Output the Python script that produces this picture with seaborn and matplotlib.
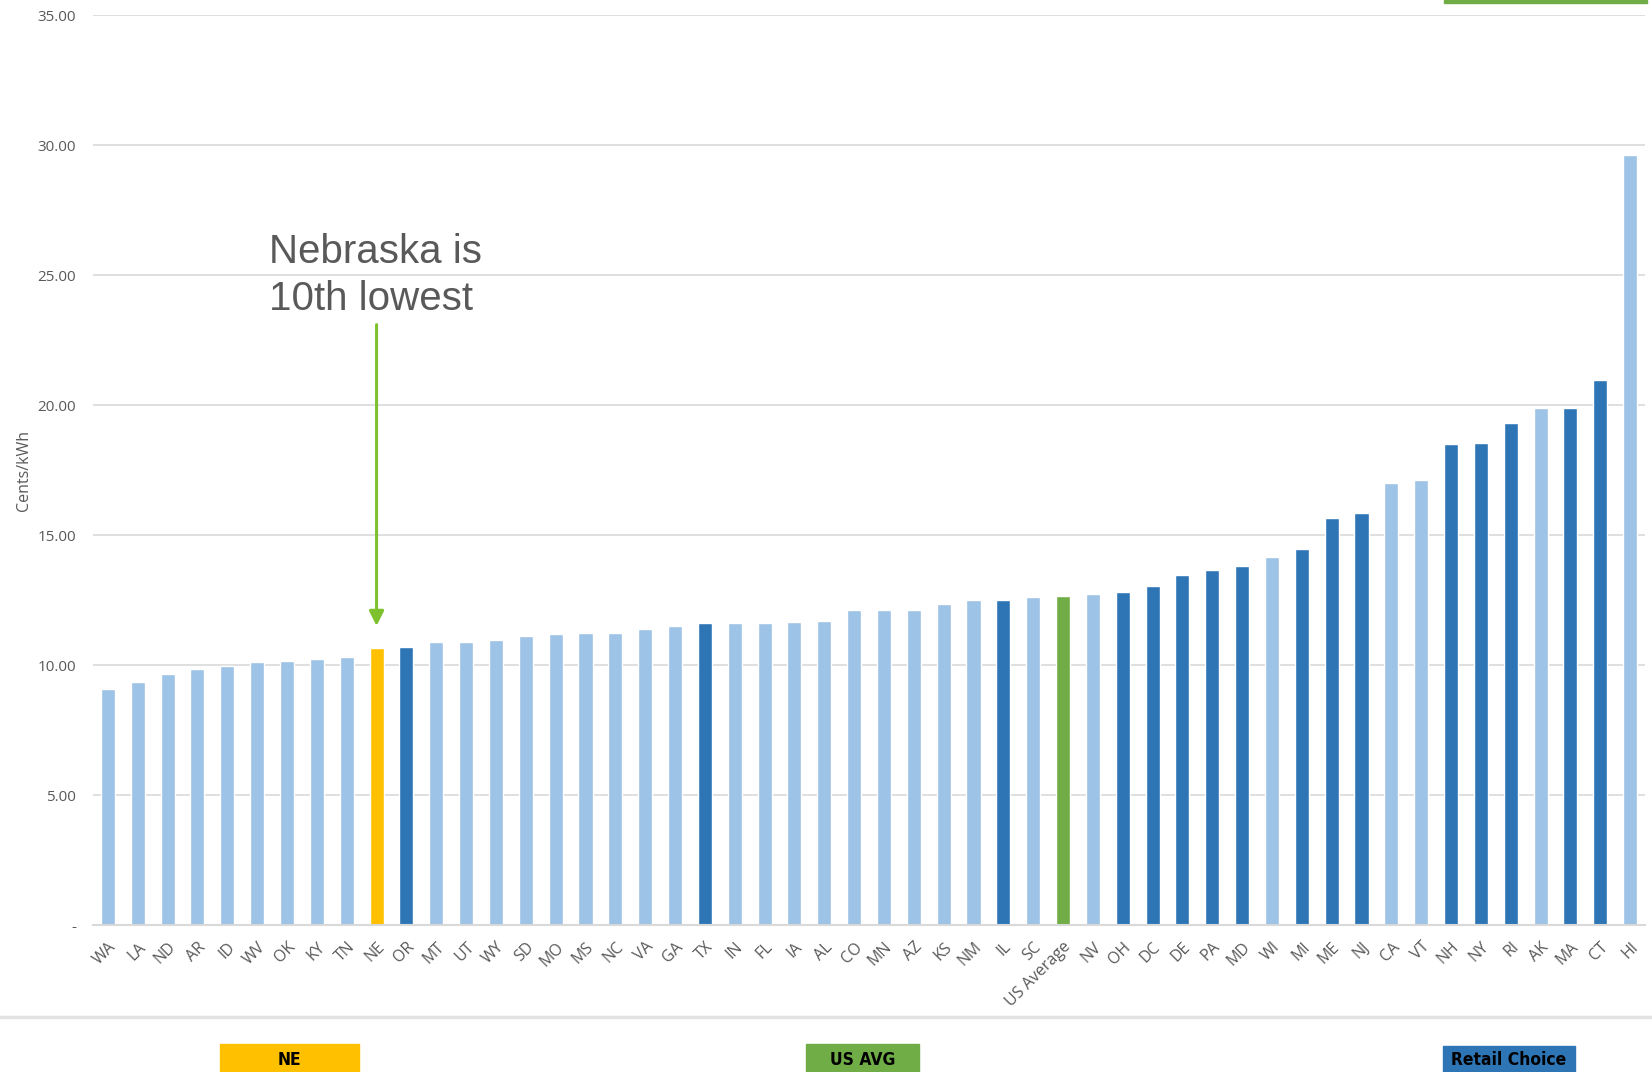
import matplotlib
matplotlib.use('Agg')
import matplotlib.pyplot as plt
import seaborn as sns
import pandas as pd
from matplotlib.patches import Rectangle

sns.set_theme(style="white")
plt.rcParams['font.family'] = ['Open Sans', 'DejaVu Sans']

# Average residential electricity price by state, cents/kWh
states = ['WA', 'LA', 'ND', 'AR', 'ID', 'WV', 'OK', 'KY', 'TN', 'NE',
          'OR', 'MT', 'UT', 'WY', 'SD', 'MO', 'MS', 'NC', 'VA', 'GA',
          'TX', 'IN', 'FL', 'IA', 'AL', 'CO', 'MN', 'AZ', 'KS', 'NM',
          'IL', 'SC', 'US Average', 'NV', 'OH', 'DC', 'DE', 'PA', 'MD', 'WI',
          'MI', 'ME', 'NJ', 'CA', 'VT', 'NH', 'NY', 'RI', 'AK', 'MA',
          'CT', 'HI']
prices = [9.10, 9.35, 9.65, 9.85, 9.95, 10.10, 10.15, 10.25, 10.30, 10.65,
          10.70, 10.90, 10.90, 10.95, 11.10, 11.20, 11.25, 11.25, 11.40, 11.50,
          11.60, 11.60, 11.60, 11.65, 11.70, 12.10, 12.10, 12.10, 12.35, 12.50,
          12.50, 12.60, 12.65, 12.75, 12.80, 13.05, 13.45, 13.65, 13.80, 14.15,
          14.45, 15.65, 15.85, 17.00, 17.10, 18.50, 18.55, 19.30, 19.90, 19.90,
          20.95, 29.60]
retail_choice = ['OR', 'TX', 'IL', 'OH', 'DC', 'DE', 'PA', 'MD', 'MI', 'ME',
                 'NJ', 'NH', 'NY', 'RI', 'MA', 'CT']
y_ticks = [0, 5, 10, 15, 20, 25, 30, 35]
y_tick_labels = ['-', '5.00', '10.00', '15.00', '20.00', '25.00', '30.00', '35.00']

LIGHT = '#9DC3E6'
DARK = '#2E75B6'
GOLD = '#FFC000'
GREEN = '#70AD47'
GREY_TXT = '#595959'

palette = {}
for s in states:
    if s == 'NE':
        palette[s] = GOLD
    elif s == 'US Average':
        palette[s] = GREEN
    elif s in retail_choice:
        palette[s] = DARK
    else:
        palette[s] = LIGHT

df = pd.DataFrame({'state': states, 'price': prices})

fig = plt.figure(figsize=(16.52, 10.72), dpi=100)
ax = fig.add_axes([0.0563, 0.137, 0.9395, 0.849])

sns.barplot(data=df, x='state', y='price', hue='state', palette=palette,
            legend=False, width=0.47, saturation=1, ax=ax)

ax.set_xlim(-0.5, len(states) - 0.5)
ax.set_ylim(0, 35)
ax.set_yticks(y_ticks)
ax.set_yticklabels(y_tick_labels, color=GREY_TXT, fontsize=11)
ax.yaxis.grid(True, color='#D9D9D9', linewidth=1.2)
ax.set_axisbelow(True)
for sp in ['top', 'right', 'left']:
    ax.spines[sp].set_visible(False)
ax.spines['bottom'].set_color('#D9D9D9')
ax.spines['bottom'].set_linewidth(1.5)
ax.tick_params(axis='y', length=0, pad=12)
ax.tick_params(axis='x', length=0, pad=10)
plt.setp(ax.get_xticklabels(), rotation=45, ha='right', rotation_mode='anchor',
         color=GREY_TXT, fontsize=11.5)
ax.set_xlabel('')
ax.set_ylabel('Cents/kWh', color=GREY_TXT, fontsize=11.5, labelpad=4)

# annotation
ne_idx = states.index('NE')
ax.annotate('', xy=(ne_idx, 11.4), xytext=(ne_idx, 23.2),
            arrowprops=dict(arrowstyle='-|>', color='#7DC22E', lw=2.2,
                            mutation_scale=22))
ax.text(ne_idx - 3.6, 25.0, 'Nebraska is\n10th lowest', fontsize=29,
        color=GREY_TXT, family=['Liberation Sans', 'DejaVu Sans'],
        va='center', ha='left', linespacing=1.3)

# bottom separator and legend boxes
fig.add_artist(plt.Line2D([0, 1], [1 - 1017 / 1072] * 2, color='#E3E3E3', lw=2.5))
legend_items = [('NE', GOLD, 220, 359, 1044), ('US AVG', GREEN, 806, 919, 1044),
                ('Retail Choice', DARK, 1443, 1575, 1046)]
for label, col, x0, x1, ytop in legend_items:
    fig.add_artist(Rectangle((x0 / 1652, 0), (x1 - x0) / 1652, (1072 - ytop) / 1072,
                             color=col, transform=fig.transFigure))
    fig.text((x0 + x1) / 2 / 1652, 0.003, label, ha='center', va='bottom',
             fontsize=12.5, fontweight='bold', color='black',
             family='DejaVu Sans', fontstretch='condensed')

# top-right green bar (cut off in the original)
fig.add_artist(Rectangle((1444 / 1652, 1 - 3 / 1072), 203 / 1652, 3 / 1072,
                         color=GREEN, transform=fig.transFigure))

fig.savefig('out.png', dpi=100, facecolor='white')
